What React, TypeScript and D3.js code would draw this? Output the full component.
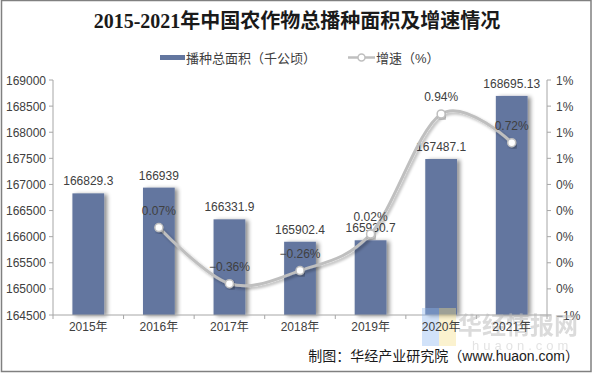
import React from "react";
import * as d3 from "d3";

const years = ["2015年", "2016年", "2017年", "2018年", "2019年", "2020年", "2021年"];
const areaValues = [166829.3, 166939, 166331.9, 165902.4, 165930.7, 167487.1, 168695.13];
const areaLabels = ["166829.3", "166939", "166331.9", "165902.4", "165930.7", "167487.1", "168695.13"];
const growthValues: (number | null)[] = [null, 0.07, -0.36, -0.26, 0.02, 0.94, 0.72];
const leftTicks = [164500, 165000, 165500, 166000, 166500, 167000, 167500, 168000, 168500, 169000];
const rightTicks = [-0.6, -0.4, -0.2, 0, 0.2, 0.4, 0.6, 0.8, 1.0, 1.2];

const W = 594, H = 373;
const left = 53, right = 547, top = 80, bottom = 315;
const barColor = "#63769f";
const lineColor = "#bfbfbf";
const textColor = "#404040";
const font = "'Liberation Sans', Arial, 'Noto Sans CJK SC', sans-serif";

export default function App() {
  const x = d3.scaleBand<string>().domain(years).range([left, right]).paddingInner(0.55).paddingOuter(0.275);
  const xb = d3.scaleBand<string>().domain(years).range([left, right]);
  const yL = d3.scaleLinear().domain([164500, 169000]).range([bottom, top]);
  const yR = d3.scaleLinear().domain([-0.6, 1.2]).range([bottom, top]);

  const pts = years
    .map((yr, i) => ({ yr, v: growthValues[i] }))
    .filter((d) => d.v !== null) as { yr: string; v: number }[];
  const cx = (yr: string) => (xb(yr) as number) + xb.bandwidth() / 2;
  const line = d3
    .line<{ yr: string; v: number }>()
    .x((d) => cx(d.yr))
    .y((d) => yR(d.v))
    .curve(d3.curveCardinal.tension(0));

  return (
    <svg width={W} height={H} style={{ display: "block", position: "absolute", left: 0, top: 0 }}>
      <defs>
        <filter id="barShadow" x="-20%" y="-10%" width="150%" height="120%">
          <feGaussianBlur in="SourceAlpha" stdDeviation="2" />
          <feOffset dx="3" dy="1" result="b" />
          <feComponentTransfer><feFuncA type="linear" slope="0.45" /></feComponentTransfer>
          <feMerge><feMergeNode /><feMergeNode in="SourceGraphic" /></feMerge>
        </filter>
        <filter id="lineShadow" x="-10%" y="-10%" width="120%" height="130%">
          <feGaussianBlur in="SourceAlpha" stdDeviation="1.5" />
          <feOffset dx="1.5" dy="2" />
          <feComponentTransfer><feFuncA type="linear" slope="0.3" /></feComponentTransfer>
          <feMerge><feMergeNode /><feMergeNode in="SourceGraphic" /></feMerge>
        </filter>
      </defs>
      <rect x={0} y={0} width={W} height={H} fill="#fff" />
      <rect x={1.5} y={0.5} width={589.5} height={371} fill="none" stroke="#808080" strokeWidth={1.5} />

      {/* title */}
      <text x={297} y={28} textAnchor="middle" fontSize={20} fontWeight="bold" fill="#1a1a1a"
        fontFamily="'Liberation Serif', 'DejaVu Serif', 'Noto Sans CJK SC', serif">
        2015-2021年中国农作物总播种面积及增速情况
      </text>

      {/* legend */}
      <g fontFamily={font} fontSize={13} fill={textColor}>
        <rect x={160} y={55} width={25} height={5} fill={barColor} />
        <text x={186} y={63}>播种总面积（千公顷）</text>
        <line x1={348} y1={57.5} x2={375} y2={57.5} stroke={lineColor} strokeWidth={2.5} />
        <circle cx={361.5} cy={57.5} r={3.5} fill="#fff" stroke={lineColor} strokeWidth={1.5} />
        <text x={376} y={63}>增速（%）</text>
      </g>

      {/* left axis */}
      <line x1={left} y1={top} x2={left} y2={bottom} stroke="#a6a6a6" />
      {leftTicks.map((t) => (
        <g key={t}>
          <line x1={left - 4} x2={left} y1={yL(t)} y2={yL(t)} stroke="#a6a6a6" />
          <text x={46} y={yL(t) + 4.5} textAnchor="end" fontSize={12} fill={textColor} fontFamily={font}>{t}</text>
        </g>
      ))}

      {/* right axis */}
      <line x1={right} y1={top} x2={right} y2={bottom} stroke="#a6a6a6" />
      {rightTicks.map((t) => (
        <g key={t}>
          <line x1={right} x2={right + 4} y1={yR(t)} y2={yR(t)} stroke="#a6a6a6" />
          <text x={556} y={yR(t) + 4.5} fontSize={12} fill={textColor} fontFamily={font}>{d3.format(".0%")(t / 100)}</text>
        </g>
      ))}

      {/* bars */}
      {years.map((yr, i) => (
        <rect key={yr} x={x(yr)} y={yL(areaValues[i])} width={x.bandwidth()} height={bottom - yL(areaValues[i])}
          fill={barColor} filter="url(#barShadow)" />
      ))}

      {/* x axis */}
      <line x1={left} y1={bottom} x2={right} y2={bottom} stroke="#a6a6a6" />
      {years.map((yr) => (
        <line key={yr} x1={xb(yr)} x2={xb(yr)} y1={bottom} y2={bottom + 4} stroke="#a6a6a6" />
      ))}
      <line x1={right} x2={right} y1={bottom} y2={bottom + 4} stroke="#a6a6a6" />

      {/* watermark */}
      <g opacity={0.5}>
        <rect x={422} y={308} width={17} height={38} fill="#8fb8f0" opacity={0.8} />
        <rect x={439} y={308} width={17} height={38} fill="#f5e08a" opacity={0.8} />
        <text x={458} y={334} fontSize={24} fontWeight="bold" fill="#b8b8b8" fontFamily="'Noto Sans CJK SC', sans-serif">华经情报网</text>
        <text x={472} y={350} fontSize={13} fill="#c8c8c8" letterSpacing={4} fontFamily={font}>huaon.com</text>
      </g>

      {years.map((yr) => (
        <text key={yr} x={cx(yr)} y={331} textAnchor="middle" fontSize={12} fill={textColor} fontFamily={font}>{yr}</text>
      ))}

      {/* bar labels */}
      {years.map((yr, i) => (
        <text key={yr} x={cx(yr)} y={yL(areaValues[i]) - 8} textAnchor="middle" fontSize={12} fill={textColor} fontFamily={font}>
          {areaLabels[i]}
        </text>
      ))}

      {/* growth line */}
      <path d={line(pts) as string} fill="none" stroke={lineColor} strokeWidth={3} filter="url(#lineShadow)" />
      {pts.map((d) => (
        <circle key={d.yr} cx={cx(d.yr)} cy={yR(d.v)} r={4} fill="#fff" stroke={lineColor} strokeWidth={1.5} filter="url(#lineShadow)" />
      ))}
      {pts.map((d) => (
        <text key={d.yr} x={cx(d.yr)} y={yR(d.v) - 13} textAnchor="middle" fontSize={12} fill={textColor} fontFamily={font}>
          {d3.format(".2f")(d.v)}%
        </text>
      ))}

      {/* source */}
      <text x={579} y={361} textAnchor="end" fontSize={14} fill="#1a1a1a" fontFamily={font}>制图：华经产业研究院（www.huaon.com）</text>
    </svg>
  );
}
